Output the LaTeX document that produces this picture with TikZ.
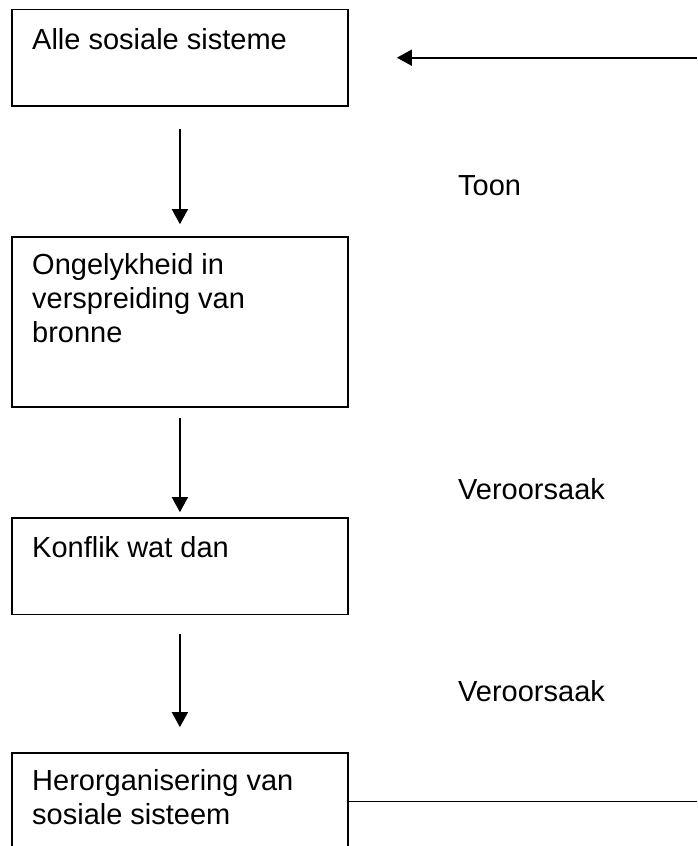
\documentclass[tikz,border=0pt]{standalone}
\usepackage{fontspec}
\setmainfont{Liberation Sans}
\usetikzlibrary{arrows.meta}
\begin{document}
\begin{tikzpicture}[x=1pt,y=-1pt,
  boxnode/.style={draw=black,line width=1.7pt,rectangle,inner sep=0pt,minimum width=336.3pt},
  txt/.style={inner sep=0pt,anchor=base west,align=left,font=\fontsize{29}{34.3}\selectfont},
  arr/.style={draw=black,line width=1.8pt,-{Triangle[length=15pt,width=16pt]}},
  plain/.style={draw=black,line width=1.7pt}]
\useasboundingbox (0,0) rectangle (697,846);
\clip (0,0) rectangle (697,846);
\fill[white] (0,0) rectangle (697,846);
% boxes
\node[boxnode,minimum height=96.7pt] (b1) at (179.9,57.7) {};
\node[boxnode,minimum height=170pt] (b2) at (179.9,322) {};
\node[boxnode,minimum height=96.5pt] (b3) at (179.9,566.25) {};
\node[boxnode,minimum height=97pt] (b4) at (179.9,801.5) {};
% box texts (base anchor = last line's baseline)
\node[txt] (t1) at (32,49) {Alle sosiale sisteme};
\node[txt] (t2) at (32,342.6) {Ongelykheid in\\verspreiding van\\bronne};
\node[txt] (t3) at (32,557) {Konflik wat dan};
\node[txt] (t4) at (32,824.6) {Herorganisering van\\sosiale sisteem};
% side labels
\node[txt] (l1) at (458,195) {Toon};
\node[txt] (l2) at (458,499) {Veroorsaak};
\node[txt] (l3) at (458,701) {Veroorsaak};
% connectors
\coordinate (rtop) at (697,57.7);
\coordinate (rbot) at (697,801.5);
\draw[arr,shorten <=22pt,shorten >=12pt] (b1.south) -- (b2.north);
\draw[arr,shorten <=10pt,shorten >=5pt] (b2.south) -- (b3.north);
\draw[arr,shorten <=18.5pt,shorten >=25pt] (b3.south) -- (b4.north);
\draw[arr,shorten >=48pt] (rtop) -- (b1.east);
\draw[plain] (b4.east) -- (rbot);
\end{tikzpicture}
\end{document}
